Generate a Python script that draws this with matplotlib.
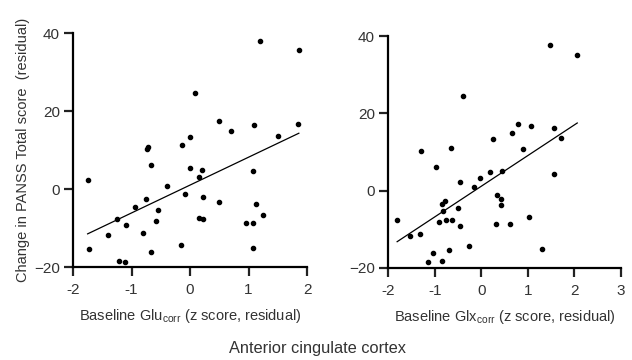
import matplotlib.pyplot as plt
import numpy as np

plt.rcParams['font.family'] = ['Liberation Sans', 'DejaVu Sans']
plt.rcParams['mathtext.default'] = 'regular'

# Left panel: baseline Glu_corr vs change in PANSS total
glu_x = [-1.75, -1.72, -1.40, -1.25, -1.22, -1.11, -1.09, -0.94, -0.81, -0.76,
         -0.74, -0.71, -0.67, -0.67, -0.58, -0.55, -0.39, -0.16, -0.13, -0.08,
         0.00, 0.00, 0.09, 0.16, 0.16, 0.21, 0.22, 0.22, 0.49, 0.50,
         0.70, 0.95, 1.07, 1.08, 1.08, 1.09, 1.13, 1.19, 1.24, 1.51,
         1.84, 1.86]
glu_y = [2.2, -15.4, -11.7, -7.8, -18.4, -18.6, -9.3, -4.6, -11.2, -2.6,
         10.3, 10.9, 6.1, -16.2, -8.2, -5.3, 0.9, -14.4, 11.2, -1.2,
         13.4, 5.4, 24.5, 3.2, -7.5, 5.0, -2.1, -7.7, -3.4, 17.4,
         15.0, -8.7, -15.2, 4.5, -8.7, 16.3, -3.8, 37.9, -6.6, 13.7,
         16.7, 35.6]
glu_fit_x = [-1.75, 1.86]
glu_fit_y = [-11.5, 14.3]

# Right panel: baseline Glx_corr
glx_x = [-1.81, -1.54, -1.32, -1.30, -1.14, -1.04, -0.98, -0.90, -0.85, -0.84,
         -0.83, -0.79, -0.75, -0.69, -0.65, -0.63, -0.51, -0.47, -0.46, -0.40,
         -0.26, -0.16, -0.04, 0.18, 0.24, 0.32, 0.33, 0.43, 0.43, 0.44,
         0.61, 0.65, 0.79, 0.90, 1.02, 1.07, 1.30, 1.48, 1.57, 1.57,
         1.70, 2.05]
glx_y = [-7.7, -11.6, -11.1, 10.2, -18.5, -16.0, 6.1, -8.1, -18.3, -3.4,
         -5.2, -2.6, -7.6, -15.3, 11.1, -7.5, -4.6, -9.2, 2.2, 24.4,
         -14.3, 0.9, 3.2, 4.9, 13.3, -8.7, -1.2, -2.1, -3.8, 5.2,
         -8.7, 15.0, 17.2, 10.9, -6.7, 16.6, -15.1, 37.8, 16.2, 4.4,
         13.7, 35.2]
glx_fit_x = [-1.81, 2.06]
glx_fit_y = [-13.2, 17.5]

fig = plt.figure(figsize=(6.32, 3.6), dpi=100)
ax1 = fig.add_axes([0.1155, 0.2583, 0.3703, 0.65])
ax2 = fig.add_axes([0.6144, 0.2556, 0.3682, 0.6444])

def style(ax, xticks):
    ax.set_ylim(-20, 40)
    ax.set_yticks([-20, 0, 20, 40])
    ax.set_xlim(xticks[0], xticks[-1])
    ax.set_xticks(xticks)
    ax.set_xticklabels([str(t) for t in xticks])
    for s in ['top', 'right']:
        ax.spines[s].set_visible(False)
    for s in ['left', 'bottom']:
        ax.spines[s].set_linewidth(1.6)
        ax.spines[s].set_clip_on(False)
    ax.tick_params(direction='out', length=6.5, width=1.6, labelsize=11, pad=3,
                   colors='#222222', labelcolor='#333333')
    ax.tick_params(axis='x', pad=5)

ax1.scatter(glu_x, glu_y, s=9, color='black', zorder=3, clip_on=False)
ax1.plot(glu_fit_x, glu_fit_y, color='black', linewidth=0.9)
style(ax1, [-2, -1, 0, 1, 2])
ax1.set_xlabel(r'Baseline Glu$_{corr}$ (z score, residual)', fontsize=10.5,
               labelpad=7, color='#333333')
ax1.set_ylabel('Change in PANSS Total score  (residual)', fontsize=10.5,
               labelpad=3, color='#333333')

ax2.scatter(glx_x, glx_y, s=9, color='black', zorder=3, clip_on=False)
ax2.plot(glx_fit_x, glx_fit_y, color='black', linewidth=0.9)
style(ax2, [-2, -1, 0, 1, 2, 3])
ax2.set_xlabel(r'Baseline Glx$_{corr}$ (z score, residual)', fontsize=10.5,
               labelpad=7, color='#333333')

fig.text(0.503, 0.031, 'Anterior cingulate cortex', ha='center', va='center',
         fontsize=11.8, color='#333333')

fig.savefig('out.png', dpi=100)
